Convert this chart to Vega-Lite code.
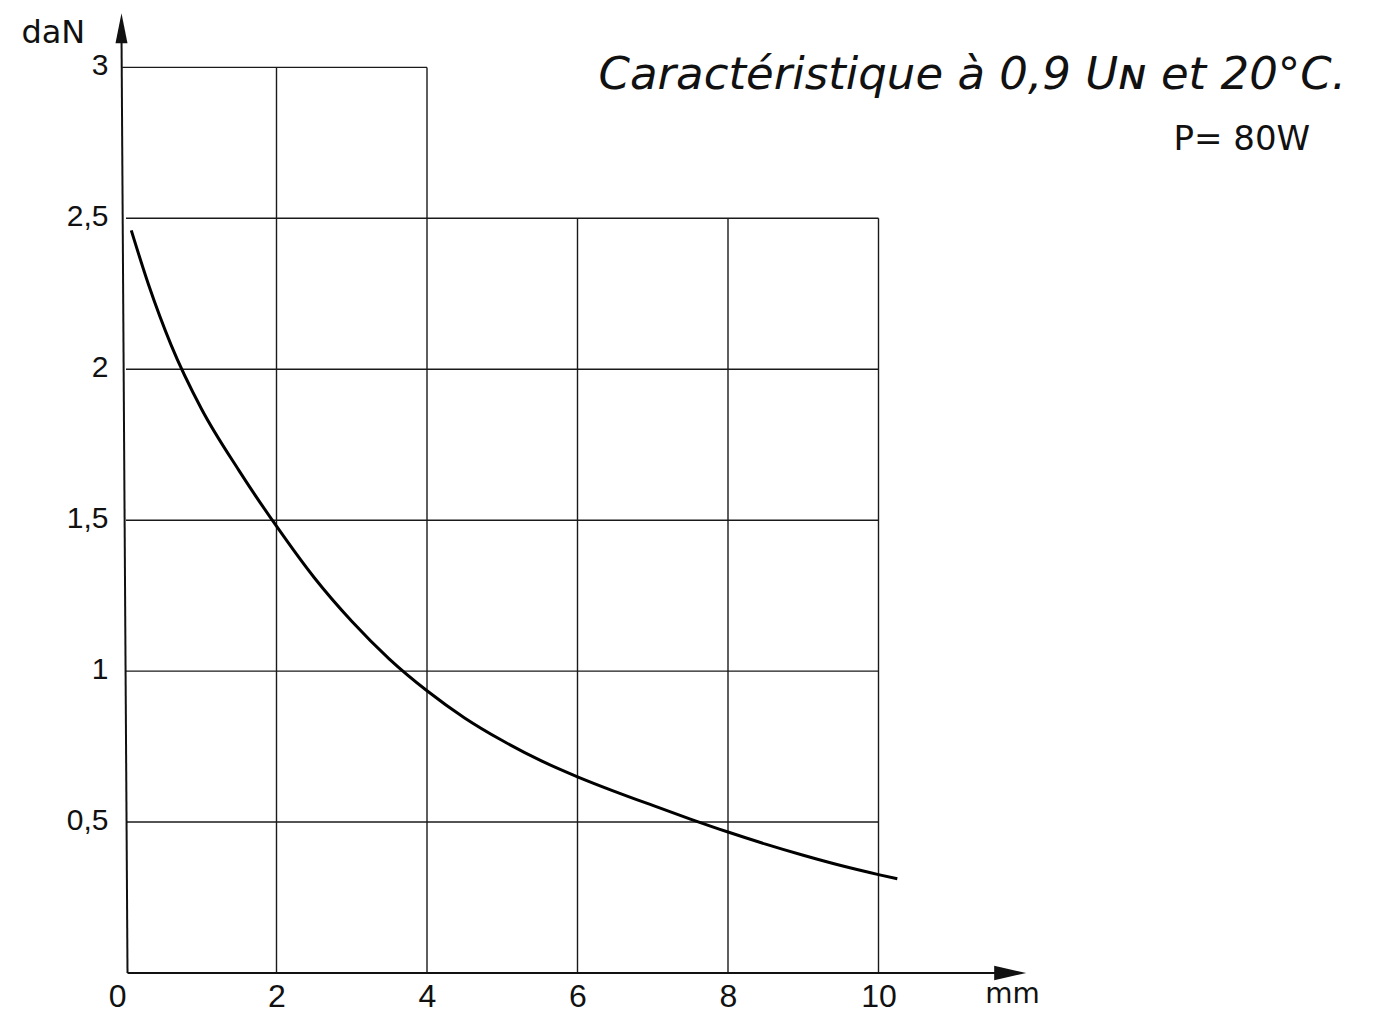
{
  "$schema": "https://vega.github.io/schema/vega-lite/v6.json",
  "width": 903,
  "height": 966,
  "autosize": {"type": "none"},
  "padding": {"left": 126, "top": 7, "right": 350, "bottom": 41},
  "background": "white",
  "config": {"view": {"stroke": null}},
  "datasets": {
    "grid": [
      {"x": 0, "x2": 10, "y": 0.5, "y2": 0.5},
      {"x": 0, "x2": 10, "y": 1, "y2": 1},
      {"x": 0, "x2": 10, "y": 1.5, "y2": 1.5},
      {"x": 0, "x2": 10, "y": 2, "y2": 2},
      {"x": 0, "x2": 10, "y": 2.5, "y2": 2.5},
      {"x": -0.05, "x2": 4, "y": 3, "y2": 3},
      {"x": 2, "x2": 2, "y": 0, "y2": 3},
      {"x": 4, "x2": 4, "y": 0, "y2": 3},
      {"x": 6, "x2": 6, "y": 0, "y2": 2.5},
      {"x": 8, "x2": 8, "y": 0, "y2": 2.5},
      {"x": 10, "x2": 10, "y": 0, "y2": 2.5}
    ],
    "axes": [
      {"x": 0.02, "x2": -0.06, "y": 0, "y2": 3.12},
      {"x": 0.02, "x2": 11.8, "y": 0, "y2": 0}
    ],
    "curve": [
      {"x": 0.07, "y": 2.46},
      {"x": 0.3, "y": 2.28},
      {"x": 0.6, "y": 2.08},
      {"x": 1.0, "y": 1.87},
      {"x": 1.5, "y": 1.665},
      {"x": 2.0, "y": 1.48},
      {"x": 2.5, "y": 1.31},
      {"x": 3.0, "y": 1.165},
      {"x": 3.5, "y": 1.04},
      {"x": 4.0, "y": 0.935},
      {"x": 4.5, "y": 0.845},
      {"x": 5.0, "y": 0.77},
      {"x": 5.5, "y": 0.705},
      {"x": 6.0, "y": 0.65},
      {"x": 6.5, "y": 0.601},
      {"x": 7.0, "y": 0.555},
      {"x": 7.5, "y": 0.51},
      {"x": 8.0, "y": 0.467},
      {"x": 8.5, "y": 0.427},
      {"x": 9.0, "y": 0.39},
      {"x": 9.5, "y": 0.356},
      {"x": 10.0, "y": 0.326},
      {"x": 10.25, "y": 0.312}
    ]
  },
  "layer": [
    {
      "data": {"name": "grid"},
      "mark": {"type": "rule", "color": "#1a1a1a", "strokeWidth": 1.4},
      "encoding": {
        "x": {"field": "x", "type": "quantitative", "scale": {"domain": [0, 12], "nice": false, "zero": false},
          "axis": {"orient": "bottom", "title": null, "values": [0, 2, 4, 6, 8, 10], "format": "~g", "domain": false, "ticks": false, "grid": false,
            "labelFont": "Liberation Sans", "labelFontSize": 32, "labelColor": "#111", "labelPadding": 8,
            "labelAlign": {"condition": {"test": "datum.value === 0", "value": "right"}, "value": "center"}}},
        "x2": {"field": "x2"},
        "y": {"field": "y", "type": "quantitative", "scale": {"domain": [0, 3.2], "nice": false, "zero": false},
          "axis": {"orient": "left", "title": null, "values": [0.5, 1, 1.5, 2, 2.5, 3], "format": "~g", "domain": false, "ticks": false, "grid": false,
            "labelExpr": "replace(datum.label, '.', ',')",
            "labelFont": "Liberation Sans", "labelFontSize": 30, "labelColor": "#111", "labelPadding": 18, "labelBaseline": "middle", "labelOffset": -2}},
        "y2": {"field": "y2"}
      }
    },
    {
      "data": {"name": "axes"},
      "mark": {"type": "rule", "color": "#111", "strokeWidth": 2},
      "encoding": {
        "x": {"field": "x", "type": "quantitative"},
        "x2": {"field": "x2"},
        "y": {"field": "y", "type": "quantitative"},
        "y2": {"field": "y2"}
      }
    },
    {
      "data": {"values": [{"x": -0.06, "y": 3.13}]},
      "mark": {"type": "point", "shape": "M0,-1L0.4,1L-0.4,1Z", "size": 900, "filled": true, "color": "#111", "opacity": 1},
      "encoding": {
        "x": {"field": "x", "type": "quantitative"},
        "y": {"field": "y", "type": "quantitative"}
      }
    },
    {
      "data": {"values": [{"x": 11.75, "y": 0}]},
      "mark": {"type": "point", "shape": "M1,0L-1,-0.45L-1,0.45Z", "size": 1024, "filled": true, "color": "#111", "opacity": 1},
      "encoding": {
        "x": {"field": "x", "type": "quantitative"},
        "y": {"field": "y", "type": "quantitative"}
      }
    },
    {
      "data": {"name": "curve"},
      "mark": {"type": "line", "color": "#000", "strokeWidth": 3, "interpolate": "monotone"},
      "encoding": {
        "x": {"field": "x", "type": "quantitative"},
        "y": {"field": "y", "type": "quantitative"}
      }
    },
    {
      "data": {"values": [{"x": 6.28, "y": 2.927, "label": "Caractéristique à 0,9 Uɴ et 20°C."}]},
      "mark": {"type": "text", "align": "left", "baseline": "alphabetic", "font": "DejaVu Sans", "fontStyle": "italic", "fontSize": 45, "color": "#111", "clip": false},
      "encoding": {
        "x": {"field": "x", "type": "quantitative"},
        "y": {"field": "y", "type": "quantitative"},
        "text": {"field": "label"}
      }
    },
    {
      "data": {"values": [{"x": 13.92, "y": 2.725, "label": "P= 80W"}]},
      "mark": {"type": "text", "align": "left", "baseline": "alphabetic", "font": "DejaVu Sans", "fontSize": 34, "color": "#111", "clip": false},
      "encoding": {
        "x": {"field": "x", "type": "quantitative"},
        "y": {"field": "y", "type": "quantitative"},
        "text": {"field": "label"}
      }
    },
    {
      "data": {"values": [{"x": -1.39, "y": 3.08, "label": "daN"}]},
      "mark": {"type": "text", "align": "left", "baseline": "alphabetic", "font": "DejaVu Sans", "fontSize": 32, "color": "#111", "clip": false},
      "encoding": {
        "x": {"field": "x", "type": "quantitative"},
        "y": {"field": "y", "type": "quantitative"},
        "text": {"field": "label"}
      }
    },
    {
      "data": {"values": [{"x": 11.78, "y": -0.1, "label": "mm"}]},
      "mark": {"type": "text", "align": "center", "baseline": "alphabetic", "font": "DejaVu Sans", "fontSize": 28, "color": "#111", "clip": false},
      "encoding": {
        "x": {"field": "x", "type": "quantitative"},
        "y": {"field": "y", "type": "quantitative"},
        "text": {"field": "label"}
      }
    }
  ]
}
